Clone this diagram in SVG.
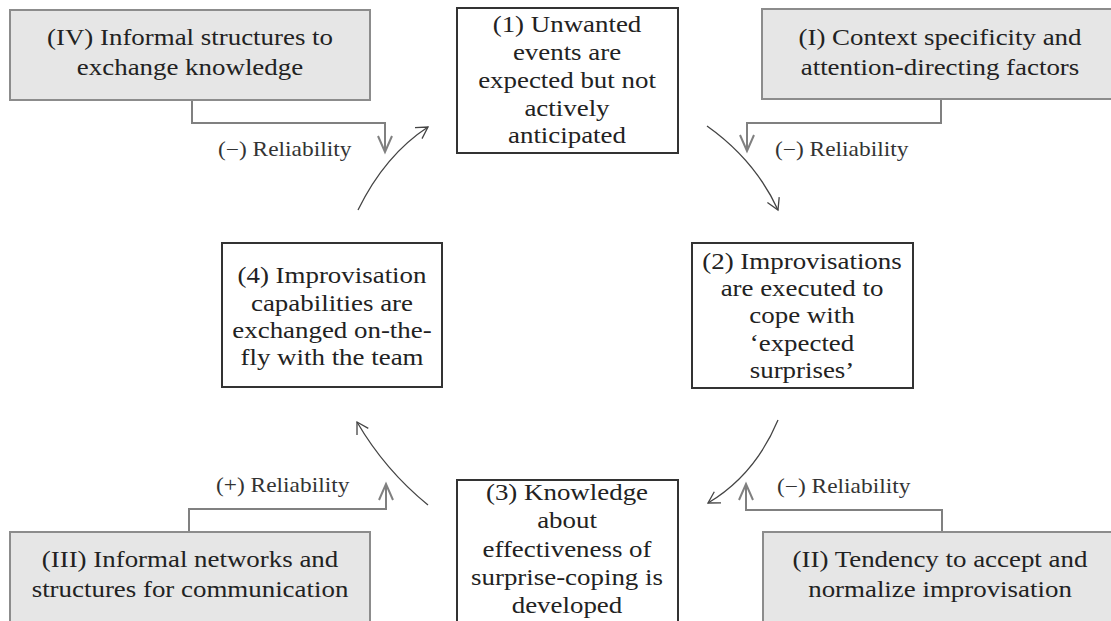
<svg xmlns="http://www.w3.org/2000/svg" width="1111" height="621" viewBox="0 0 1111 621" font-family="'Liberation Serif', serif">
<style>
.gbox{fill:#e6e6e6;stroke:#8c8c8c;stroke-width:2}
.wbox{fill:#fff;stroke:#333;stroke-width:2}
.t{font-family:'Liberation Serif',serif;font-size:23px;fill:#222;text-anchor:middle}
.lbl{font-family:'Liberation Serif',serif;font-size:20px;fill:#333}
.conn{fill:none;stroke:#808080;stroke-width:2}
.cyc{fill:none;stroke:#444;stroke-width:1.3}
</style>
<rect width="1111" height="621" fill="#fff"/>
<g id="connectors">
<path class="conn" d="M192,100 V123 H385 V151"/>
<polyline class="conn" points="378,136 385,152 392,136"/>
<path class="conn" d="M941,99 V123 H747 V150"/>
<polyline class="conn" points="740,135 747,151 754,135"/>
<path class="conn" d="M189,532 V509 H386 V485"/>
<polyline class="conn" points="379,500 386,484 393,500"/>
<path class="conn" d="M942,532 V510 H746 V485"/>
<polyline class="conn" points="739,500 746,484 753,500"/>
<path class="cyc" d="M358,210 Q385,155 428,127"/>
<polyline class="cyc" points="415,127.7 428,127 422,138.6"/>
<path class="cyc" d="M707,126 Q755,160 778,210"/>
<polyline class="cyc" points="779.2,197.1 778,210 767.4,202.5"/>
<path class="cyc" d="M778,420 Q755,475 708,503"/>
<polyline class="cyc" points="721,502.8 708,503 714.3,491.7"/>
<path class="cyc" d="M428,505 Q385,470 357,422"/>
<polyline class="cyc" points="357,435 357,422 368.3,428.4"/>
<g transform="translate(218,0) scale(1.17,1)"><text class="lbl" x="0" y="156">(&#8722;) Reliability</text></g>
<g transform="translate(775,0) scale(1.17,1)"><text class="lbl" x="0" y="156">(&#8722;) Reliability</text></g>
<g transform="translate(216,0) scale(1.17,1)"><text class="lbl" x="0" y="492">(+) Reliability</text></g>
<g transform="translate(777,0) scale(1.17,1)"><text class="lbl" x="0" y="493">(&#8722;) Reliability</text></g>
</g>
<g id="nodeIV">
<rect class="gbox" x="10" y="10" width="360" height="90"/>
<g transform="translate(190,0) scale(1.17,1)">
<text class="t" x="0" y="45">(IV) Informal structures to</text>
<text class="t" x="0" y="75">exchange knowledge</text>
</g>
</g>
<g id="nodeI">
<rect class="gbox" x="762" y="9" width="360" height="90"/>
<g transform="translate(940,0) scale(1.17,1)">
<text class="t" x="0" y="45">(I) Context specificity and</text>
<text class="t" x="0" y="75">attention-directing factors</text>
</g>
</g>
<g id="nodeIII">
<rect class="gbox" x="10" y="532" width="360" height="100"/>
<g transform="translate(190,0) scale(1.17,1)">
<text class="t" x="0" y="567">(III) Informal networks and</text>
<text class="t" x="0" y="597">structures for communication</text>
</g>
</g>
<g id="nodeII">
<rect class="gbox" x="763" y="532" width="360" height="100"/>
<g transform="translate(940,0) scale(1.17,1)">
<text class="t" x="0" y="567">(II) Tendency to accept and</text>
<text class="t" x="0" y="597">normalize improvisation</text>
</g>
</g>
<g id="node1">
<rect class="wbox" x="457" y="8" width="221" height="145"/>
<g transform="translate(567,0) scale(1.17,1)">
<text class="t" x="0" y="32">(1) Unwanted</text>
<text class="t" x="0" y="60">events are</text>
<text class="t" x="0" y="88">expected but not</text>
<text class="t" x="0" y="116">actively</text>
<text class="t" x="0" y="143">anticipated</text>
</g>
</g>
<g id="node2">
<rect class="wbox" x="692" y="243" width="221" height="145"/>
<g transform="translate(802,0) scale(1.17,1)">
<text class="t" x="0" y="269">(2) Improvisations</text>
<text class="t" x="0" y="296">are executed to</text>
<text class="t" x="0" y="323">cope with</text>
<text class="t" x="0" y="351">&#8216;expected</text>
<text class="t" x="0" y="378">surprises&#8217;</text>
</g>
</g>
<g id="node3">
<rect class="wbox" x="457" y="480" width="221" height="160"/>
<g transform="translate(567,0) scale(1.17,1)">
<text class="t" x="0" y="500">(3) Knowledge</text>
<text class="t" x="0" y="528">about</text>
<text class="t" x="0" y="557">effectiveness of</text>
<text class="t" x="0" y="585">surprise-coping is</text>
<text class="t" x="0" y="613">developed</text>
</g>
</g>
<g id="node4">
<rect class="wbox" x="222" y="243" width="220" height="144"/>
<g transform="translate(332,0) scale(1.17,1)">
<text class="t" x="0" y="283">(4) Improvisation</text>
<text class="t" x="0" y="311">capabilities are</text>
<text class="t" x="0" y="338">exchanged on-the-</text>
<text class="t" x="0" y="365">fly with the team</text>
</g>
</g>
</svg>
